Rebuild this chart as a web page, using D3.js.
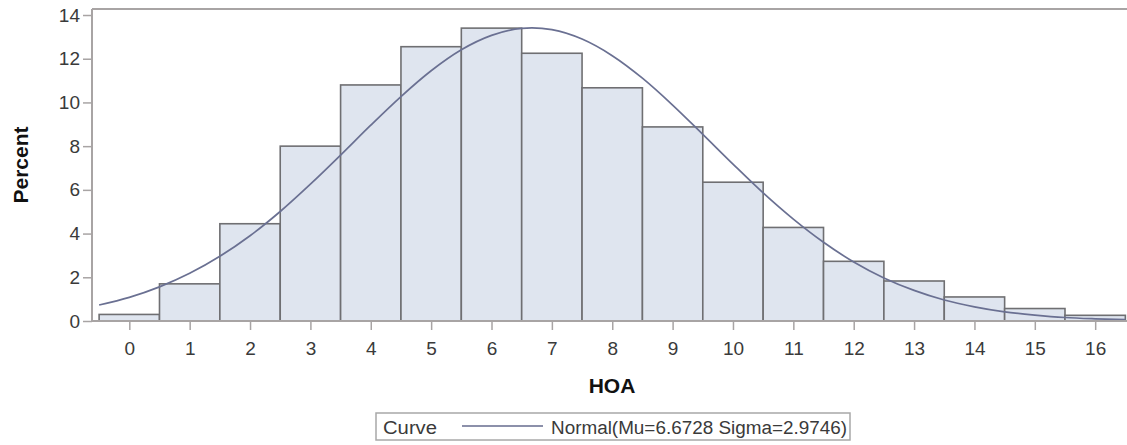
<!DOCTYPE html>
<html>
<head>
<meta charset="utf-8">
<script src="https://cdn.jsdelivr.net/npm/d3@7"></script>
<style>
  html, body { margin: 0; padding: 0; background: #fff; }
  svg { display: block; }
  text { font-family: "Liberation Sans", Arial, sans-serif; }
</style>
</head>
<body>
<svg id="chart" width="1127" height="445"></svg>
<script>
// ---- data ----
const hoaValues = [0, 1, 2, 3, 4, 5, 6, 7, 8, 9, 10, 11, 12, 13, 14, 15, 16];
const percentValues = [0.3, 1.7, 4.45, 8.0, 10.8, 12.55, 13.4, 12.25, 10.67, 8.88, 6.35, 4.28, 2.73, 1.83, 1.1, 0.57, 0.26];
const curveX = [-0.5, 0, 0.5, 1, 1.5, 2, 2.5, 3, 3.5, 4, 4.5, 5, 5.5, 6, 6.5, 6.67, 7, 7.5, 8, 8.5, 9, 9.5, 10, 10.5, 11, 11.5, 12, 12.5, 13, 13.5, 14, 14.5, 15, 15.5, 16, 16.5];
const curveY = [0.73, 1.08, 1.56, 2.18, 2.96, 3.9, 5.01, 6.26, 7.59, 8.96, 10.27, 11.45, 12.41, 13.07, 13.39, 13.41, 13.33, 12.9, 12.14, 11.11, 9.88, 8.54, 7.18, 5.86, 4.66, 3.6, 2.7, 1.97, 1.4, 0.96, 0.65, 0.42, 0.27, 0.16, 0.1, 0.06];
const yTickValues = [0, 2, 4, 6, 8, 10, 12, 14];
const xTickValues = [0, 1, 2, 3, 4, 5, 6, 7, 8, 9, 10, 11, 12, 13, 14, 15, 16];
const xTitle = "HOA";
const yTitle = "Percent";
const legendTitle = "Curve";
const legendLabel = "Normal(Mu=6.6728 Sigma=2.9746)";

// ---- layout ----
const svg = d3.select("#chart");
const pLeft = 92, pRight = 1132, pTop = 9, pBottom = 321;

const x = d3.scaleLinear().domain([-0.618, 16.61]).range([pLeft, pRight]);
const y = d3.scaleLinear().domain([0, 14.275]).range([pBottom, pTop]);

const axisColor = "#a8a4a4";
const textColor = "#3a3a3a";

// bars
svg.append("g")
  .selectAll("rect")
  .data(hoaValues.map((h, i) => ({h, p: percentValues[i]})))
  .join("rect")
  .attr("x", d => x(d.h - 0.5))
  .attr("width", d => x(d.h + 0.5) - x(d.h - 0.5))
  .attr("y", d => y(d.p))
  .attr("height", d => y(0) - y(d.p))
  .attr("fill", "#dfe5ef")
  .attr("stroke", "#6f6f72")
  .attr("stroke-width", 1.6);

// normal curve
const line = d3.line()
  .x((d, i) => x(curveX[i]))
  .y(d => y(d))
  .curve(d3.curveMonotoneX);
svg.append("path")
  .attr("d", line(curveY))
  .attr("fill", "none")
  .attr("stroke", "#6a7092")
  .attr("stroke-width", 1.7);

// frame (top line)
svg.append("line")
  .attr("x1", pLeft).attr("x2", pRight).attr("y1", pTop).attr("y2", pTop)
  .attr("stroke", axisColor).attr("stroke-width", 2);

// axes
const yAxis = d3.axisLeft(y).tickValues(yTickValues).tickSize(9).tickPadding(3).tickFormat(d3.format("d"));
const gy = svg.append("g").attr("transform", `translate(${pLeft},0)`).call(yAxis);
const xAxis = d3.axisBottom(x).tickValues(xTickValues).tickSize(9).tickPadding(12).tickFormat(d3.format("d"));
const gx = svg.append("g").attr("transform", `translate(0,${pBottom})`).call(xAxis);

[gx, gy].forEach(g => {
  g.select(".domain").attr("stroke", axisColor).attr("stroke-width", 2);
  g.selectAll(".tick line").attr("stroke", axisColor).attr("stroke-width", 1.5);
  g.selectAll(".tick text").attr("fill", textColor)
    .style("font-size", "19px").style("font-family", "'Liberation Sans', Arial, sans-serif");
});
gx.select(".domain").attr("d", `M${pLeft},0H${pRight}`);
gy.select(".domain").attr("d", `M0,${pTop}V${pBottom}`);

// titles
svg.append("text")
  .attr("x", (pLeft + pRight) / 2).attr("y", 393)
  .attr("text-anchor", "middle")
  .style("font-size", "21px").style("font-weight", "bold")
  .attr("fill", "#111")
  .text(xTitle);

svg.append("text")
  .attr("transform", `translate(28,${(pTop + pBottom) / 2}) rotate(-90)`)
  .attr("text-anchor", "middle")
  .style("font-size", "21px").style("font-weight", "bold")
  .attr("fill", "#111")
  .text(yTitle);

// legend
const lg = svg.append("g");
lg.append("rect")
  .attr("x", 376).attr("y", 413).attr("width", 474).attr("height", 27)
  .attr("fill", "#fff").attr("stroke", "#a8a8a8").attr("stroke-width", 1.5);
lg.append("text")
  .attr("x", 383).attr("y", 434)
  .style("font-size", "18px").attr("fill", textColor)
  .attr("textLength", 54).attr("lengthAdjust", "spacingAndGlyphs")
  .text(legendTitle);
lg.append("line")
  .attr("x1", 462).attr("x2", 543).attr("y1", 426).attr("y2", 426)
  .attr("stroke", "#8c90aa").attr("stroke-width", 2);
lg.append("text")
  .attr("x", 551).attr("y", 434)
  .style("font-size", "18px").attr("fill", textColor)
  .attr("textLength", 296).attr("lengthAdjust", "spacingAndGlyphs")
  .text(legendLabel);
</script>
</body>
</html>
